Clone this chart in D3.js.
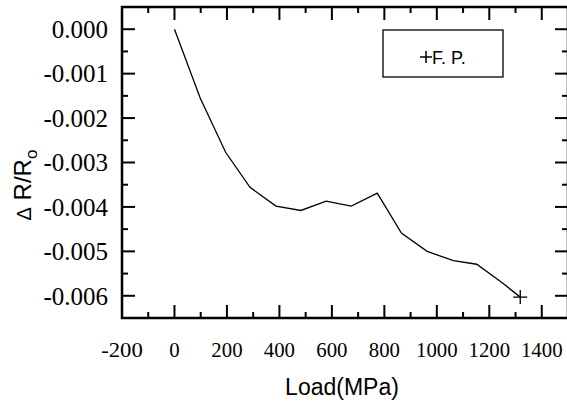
<!DOCTYPE html>
<html>
<head>
<meta charset="utf-8">
<script src="https://cdn.jsdelivr.net/npm/d3@7"></script>
<style>
  body { margin: 0; background: #fff; }
  svg { display: block; }
  .serif { font-family: "Liberation Serif", "Times New Roman", serif; }
  .sans { font-family: "Liberation Sans", Arial, sans-serif; }
</style>
</head>
<body>
<div id="chart"></div>
<script>
// values
var loads = [0, 98, 195, 288, 387, 482, 578, 674, 773, 865, 963, 1063, 1152, 1248, 1318];
var dRR0 = [0.0000, -0.00155, -0.00277, -0.00356, -0.00398, -0.00408, -0.00387, -0.00398, -0.00369, -0.00459, -0.00500, -0.00521, -0.00529, -0.00570, -0.00603];
var xTicks = [-200, 0, 200, 400, 600, 800, 1000, 1200, 1400];
var yTicks = ["0.000", "-0.001", "-0.002", "-0.003", "-0.004", "-0.005", "-0.006"];
var legendLabel = "F. P.";

var width = 567, height = 405;
var plotLeft = 122, plotRight = 568, plotTop = 7, plotBottom = 318;

var svg = d3.select("#chart").append("svg")
    .attr("width", width)
    .attr("height", height);

var x = d3.scaleLinear().domain([-200, 1500]).range([plotLeft, plotRight]);
var y = d3.scaleLinear().domain([0.0005, -0.0065]).range([plotTop, plotBottom]);

var xMinor = d3.range(-200, 1501, 100);
var yMinor = d3.range(0, 15).map(function (i) { return 0.0005 - i * 0.0005; });

var majorLen = 13, minorLen = 6;

var ticks = svg.append("g").attr("stroke", "#000").attr("stroke-width", 2);

// bottom + top ticks (inward)
ticks.selectAll("line.xb").data(xMinor).enter().append("line")
    .attr("x1", function (d) { return x(d); })
    .attr("x2", function (d) { return x(d); })
    .attr("y1", plotBottom)
    .attr("y2", function (d) { return plotBottom - (d % 200 === 0 ? majorLen : minorLen); });
ticks.selectAll("line.xt").data(xMinor).enter().append("line")
    .attr("x1", function (d) { return x(d); })
    .attr("x2", function (d) { return x(d); })
    .attr("y1", plotTop)
    .attr("y2", function (d) { return plotTop + (d % 200 === 0 ? majorLen : minorLen); });

// left + right ticks (inward)
var isMajorY = function (d) { return Math.abs(Math.round(d * 1000) - d * 1000) < 1e-6; };
ticks.selectAll("line.yl").data(yMinor).enter().append("line")
    .attr("y1", function (d) { return y(d); })
    .attr("y2", function (d) { return y(d); })
    .attr("x1", plotLeft)
    .attr("x2", function (d) { return plotLeft + (isMajorY(d) ? majorLen : minorLen); });
ticks.selectAll("line.yr").data(yMinor).enter().append("line")
    .attr("y1", function (d) { return y(d); })
    .attr("y2", function (d) { return y(d); })
    .attr("x1", plotRight)
    .attr("x2", function (d) { return plotRight - (isMajorY(d) ? majorLen : minorLen); });

// frame
svg.append("rect")
    .attr("x", plotLeft).attr("y", plotTop)
    .attr("width", plotRight - plotLeft).attr("height", plotBottom - plotTop)
    .attr("fill", "none").attr("stroke", "#000").attr("stroke-width", 2.5);

// tick labels
svg.append("g").selectAll("text").data(yTicks).enter().append("text")
    .attr("class", "serif")
    .attr("x", 108)
    .attr("y", function (d) { return y(+d); })
    .attr("dy", "0.35em")
    .attr("text-anchor", "end")
    .attr("font-size", 25)
    .text(function (d) { return d; });

svg.append("g").selectAll("text").data(xTicks).enter().append("text")
    .attr("class", "serif")
    .attr("x", function (d) { return x(d); })
    .attr("y", 357)
    .attr("text-anchor", "middle")
    .attr("font-size", 22)
    .attr("textLength", function (d) { return String(d).length * 10.4; })
    .attr("lengthAdjust", "spacingAndGlyphs")
    .text(function (d) { return String(d); });

// axis titles
svg.append("text")
    .attr("class", "sans")
    .attr("x", 342).attr("y", 395)
    .attr("text-anchor", "middle")
    .attr("font-size", 23)
    .text("Load(MPa)");

var yTitle = svg.append("text")
    .attr("class", "sans")
    .attr("transform", "translate(31,185) rotate(-90)")
    .attr("text-anchor", "middle")
    .attr("font-size", 24);
yTitle.append("tspan").attr("font-size", 20).text("\u0394");
yTitle.append("tspan").text(" R/R");
yTitle.append("tspan").attr("dy", 6).attr("font-size", 17).text("o");

// data line
var pts = loads.map(function (d, i) { return [d, dRR0[i]]; });
svg.append("path")
    .datum(pts)
    .attr("fill", "none")
    .attr("stroke", "#000")
    .attr("stroke-width", 1.3)
    .attr("d", d3.line().x(function (d) { return x(d[0]); }).y(function (d) { return y(d[1]); }));

// plus marker on last point
var last = pts[pts.length - 1];
var plus = function (g, cx, cy, s) {
    g.append("line").attr("x1", cx - s).attr("x2", cx + s).attr("y1", cy).attr("y2", cy);
    g.append("line").attr("x1", cx).attr("x2", cx).attr("y1", cy - s).attr("y2", cy + s);
};
var mk = svg.append("g").attr("stroke", "#000").attr("stroke-width", 1.3);
plus(mk, x(last[0]), y(last[1]), 7);

// legend
var lg = svg.append("g");
lg.append("rect")
    .attr("x", 383).attr("y", 30).attr("width", 120).attr("height", 47)
    .attr("fill", "#fff").attr("stroke", "#000").attr("stroke-width", 1.3);
var lgm = lg.append("g").attr("stroke", "#000").attr("stroke-width", 1.5);
plus(lgm, 426, 57, 6);
lg.append("text")
    .attr("class", "sans")
    .attr("x", 432).attr("y", 64)
    .attr("font-size", 18)
    .text(legendLabel);
</script>
</body>
</html>
